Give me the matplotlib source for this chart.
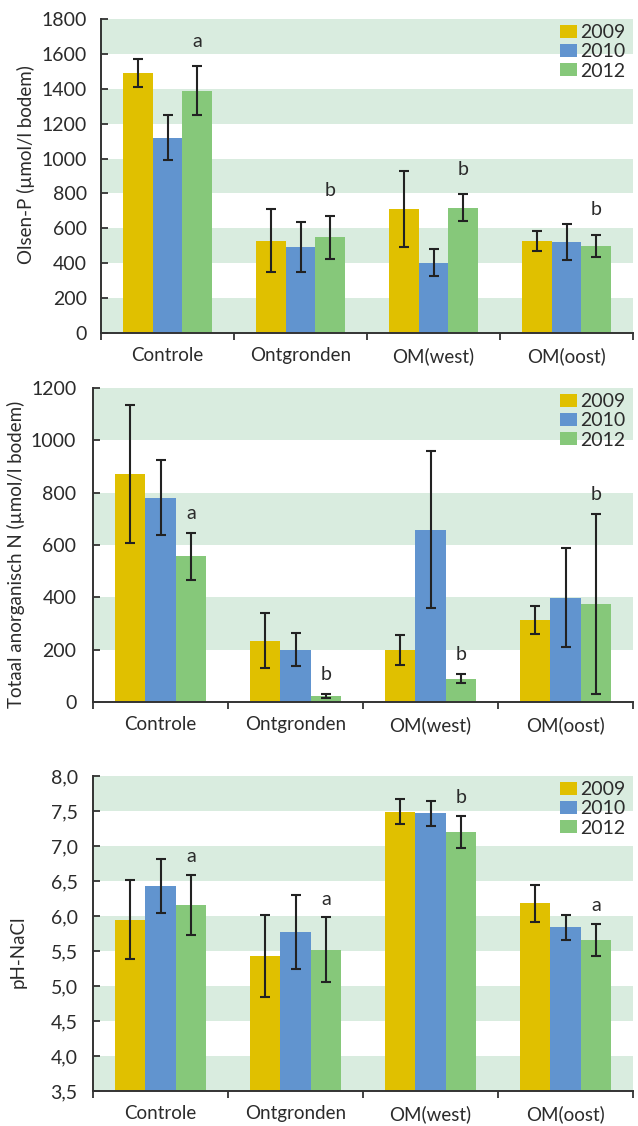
import numpy as np
import matplotlib
matplotlib.use("Agg")
import matplotlib.pyplot as plt
from matplotlib.patches import Patch

plt.rcParams['font.family'] = ['Lato', 'DejaVu Sans']

# ---- data ---------------------------------------------------------------
categories = ["Controle", "Ontgronden", "OM(west)", "OM(oost)"]
years = ["2009", "2010", "2012"]

olsen_p = {
    "2009": [1490, 529, 710, 529],
    "2010": [1119, 493, 402, 520],
    "2012": [1389, 548, 719, 500],
}
olsen_p_err = {
    "2009": [82, 180, 217, 57],
    "2010": [130, 145, 77, 103],
    "2012": [140, 125, 75, 62],
}
olsen_p_letters = ["a", "b", "b", "b"]

n_anorg = {
    "2009": [871, 234, 199, 313],
    "2010": [781, 199, 659, 399],
    "2012": [557, 23, 89, 375],
}
n_anorg_err = {
    "2009": [264, 105, 58, 55],
    "2010": [142, 63, 300, 188],
    "2012": [90, 6, 18, 343],
}
n_anorg_letters = ["a", "b", "b", "b"]

ph_nacl = {
    "2009": [5.95, 5.43, 7.49, 6.18],
    "2010": [6.43, 5.77, 7.47, 5.84],
    "2012": [6.16, 5.52, 7.20, 5.66],
}
ph_nacl_err = {
    "2009": [0.57, 0.58, 0.18, 0.26],
    "2010": [0.38, 0.53, 0.18, 0.18],
    "2012": [0.43, 0.46, 0.23, 0.23],
}
ph_nacl_letters = ["a", "a", "b", "a"]

# ---- style --------------------------------------------------------------
colors = {"2009": "#E0C000", "2010": "#6194CF", "2012": "#86C87A"}
band_color = "#D9ECDF"
text_color = "#2B2B2B"
spine_color = "#333333"

W, H = 638, 1126
fig = plt.figure(figsize=(W / 100, H / 100), dpi=100)


def px_axes(left, top, right, bottom):
    return fig.add_axes([left / W, 1 - bottom / H, (right - left) / W, (bottom - top) / H])


def draw_panel(ax, values, errors, letters, ymin, ymax, step, band_step,
               ylabel, label_xy, fmt, letter_offset, ytick_pad):
    x = np.arange(len(categories))
    width = 0.225
    # alternating horizontal bands, green on the top band
    edges = np.arange(ymax, ymin - 1e-9, -band_step)
    for i in range(len(edges) - 1):
        if i % 2 == 0:
            ax.axhspan(edges[i + 1], edges[i], color=band_color, lw=0, zorder=0)

    for j, yr in enumerate(years):
        xs = x + (j - 1) * width
        heights = np.array(values[yr]) - ymin
        ax.bar(xs, heights, width=width, bottom=ymin, color=colors[yr],
               edgecolor="none", zorder=2, label=yr)
        ax.errorbar(xs, values[yr], yerr=errors[yr], fmt="none",
                    ecolor="#222222", elinewidth=1.5, capsize=3.3,
                    capthick=1.5, zorder=3)

    # significance letters above the 2012 error bars
    tops = np.array(values["2012"]) + np.array(errors["2012"])
    for xi, t, lab in zip(x + width, tops, letters):
        ax.annotate(lab, (xi, t), xytext=(0, letter_offset),
                    textcoords="offset points", ha="center", va="bottom",
                    fontsize=14, color=text_color, zorder=4)

    ax.set_xlim(-0.5, len(categories) - 0.5)
    ax.set_ylim(ymin, ymax)
    ticks = np.arange(ymin, ymax + 1e-9, step)
    ax.set_yticks(ticks)
    ax.set_yticklabels([fmt(v) for v in ticks])
    ax.set_xticks(np.arange(-0.5, len(categories), 1.0))
    ax.set_xticklabels([])
    ax.set_xticks(x, minor=True)
    ax.set_xticklabels(categories, minor=True)
    ax.tick_params(axis="x", which="major", direction="out", length=5,
                   width=1.3, color=spine_color)
    ax.tick_params(axis="x", which="minor", length=0, pad=10,
                   labelsize=13.5, labelcolor=text_color)
    ax.tick_params(axis="y", direction="in", length=5, width=1.3,
                   color=spine_color, pad=ytick_pad, labelsize=14,
                   labelcolor=text_color)
    for s in ("top", "right"):
        ax.spines[s].set_visible(False)
    for s in ("left", "bottom"):
        ax.spines[s].set_color(spine_color)
        ax.spines[s].set_linewidth(1.4)
        ax.spines[s].set_zorder(5)
    ax.set_ylabel(ylabel, fontsize=13.5, color=text_color)
    ax.yaxis.set_label_coords(*label_xy)

    handles = [Patch(facecolor=colors[yr], edgecolor="none") for yr in years]
    ax.legend(handles, years, loc="upper right", bbox_to_anchor=(1.0, 1.009),
              frameon=False, fontsize=14, handlelength=0.9, handleheight=0.65,
              handletextpad=0.15, labelspacing=0.12, borderaxespad=0.0,
              labelcolor=text_color)


ax1 = px_axes(101, 19, 633, 333)
draw_panel(ax1, olsen_p, olsen_p_err, olsen_p_letters, 0, 1800, 200, 200,
           "Olsen-P (µmol/l bodem)", (-0.124, 0.535),
           lambda v: f"{v:.0f}", 12, 10)

ax2 = px_axes(93, 388, 633, 702)
draw_panel(ax2, n_anorg, n_anorg_err, n_anorg_letters, 0, 1200, 200, 200,
           "Totaal anorganisch N (µmol/l bodem)", (-0.126, 0.471),
           lambda v: f"{v:.0f}", 8, 12)

ax3 = px_axes(93, 776, 633, 1091)
draw_panel(ax3, ph_nacl, ph_nacl_err, ph_nacl_letters, 3.5, 8.0, 0.5, 0.5,
           "pH-NaCl", (-0.122, 0.441),
           lambda v: f"{v:.1f}".replace(".", ","), 7, 11)

fig.savefig("out.png", dpi=100)
